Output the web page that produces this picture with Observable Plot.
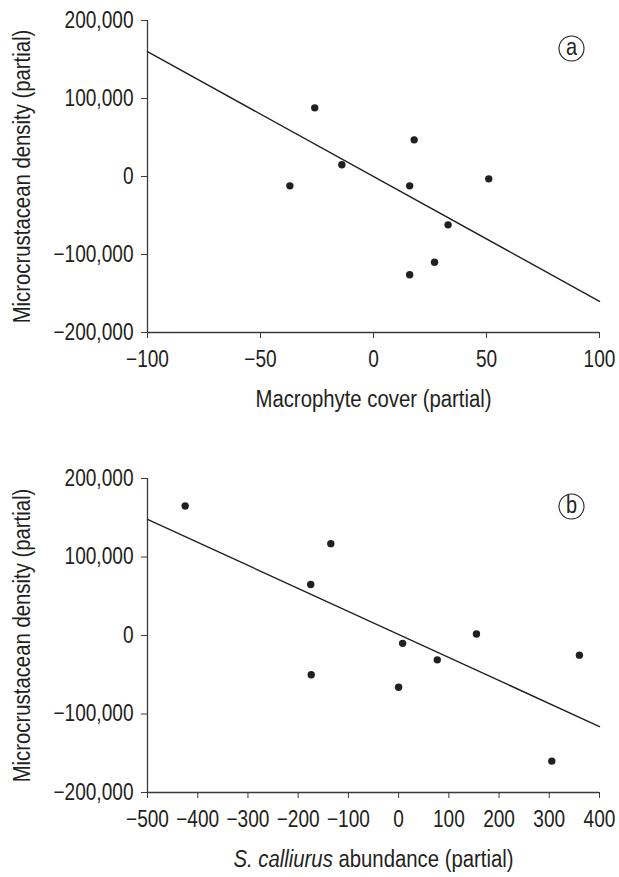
<!DOCTYPE html>
<html>
<head>
<meta charset="utf-8">
<script src="https://cdn.jsdelivr.net/npm/d3@7"></script>
<script src="https://cdn.jsdelivr.net/npm/@observablehq/plot@0.6"></script>
<style>
  html, body { margin: 0; padding: 0; background: #fff; }
  #chart svg { display: block; }
</style>
</head>
<body>
<div id="chart"></div>
<script>
// ---- Data ----
const yTicks = [-200000, -100000, 0, 100000, 200000];
const xTicksA = [-100, -50, 0, 50, 100];
const xTicksB = [-500, -400, -300, -200, -100, 0, 100, 200, 300, 400];

// Panel (a): macrophyte cover (partial) vs microcrustacean density (partial)
const coverA   = [-37, -26, -14, 16, 18, 33, 27, 16, 51];
const densityA = [-12000, 88000, 15000, -12000, 47000, -62000, -110000, -126000, -3000];
const fitAx = [-100, 100];
const fitAy = [160000, -160000];

// Panel (b): S. calliurus abundance (partial) vs microcrustacean density (partial)
const abundanceB = [-425, -135, -175, -174, 8, 77, 0, 155, 360, 305];
const densityB   = [165000, 117000, 65000, -50000, -10000, -31000, -66000, 2000, -25000, -160000];
const fitBx = [-500, 400];
const fitBy = [148000, -116000];

const yTitle = "Microcrustacean density (partial)";
const xTitleA = "Macrophyte cover (partial)";
const xTitleB = "S. calliurus abundance (partial)";

const FONT = "'Liberation Sans', Arial, Helvetica, sans-serif";
const NARROW = 0.83; // horizontal compression to mimic a narrow grotesque
const INK = "#231f20";
const AXIS = "#3a3a3a";

function panel({xs, ys, fx, fy, xDomain, xTicks, letter, xTitle, height, marginTop, marginBottom}) {
  const pts = xs.map((x, i) => ({x, y: ys[i]}));
  const fit = fx.map((x, i) => ({x, y: fy[i]}));
  return Plot.plot({
    width: 619,
    height,
    marginLeft: 147,
    marginRight: 20,
    marginTop,
    marginBottom,
    style: {fontFamily: FONT, fontSize: "23px", color: INK, background: "#fff", overflow: "visible"},
    x: {domain: xDomain, nice: false},
    y: {domain: [-200000, 200000], nice: false},
    marks: [
      Plot.axisY({ticks: yTicks, tickFormat: d3.format(","), tickSize: 6, tickPadding: 8, label: null, stroke: AXIS, fill: INK}),
      Plot.axisX({ticks: xTicks, tickFormat: d3.format(""), tickSize: 6, tickPadding: 12, label: null, stroke: AXIS, fill: INK}),
      Plot.ruleX([xDomain[0]], {stroke: AXIS, strokeWidth: 1.3}),
      Plot.ruleY([-200000], {stroke: AXIS, strokeWidth: 1.3}),
      Plot.line(fit, {x: "x", y: "y", stroke: INK, strokeWidth: 1.4}),
      Plot.dot(pts, {x: "x", y: "y", r: 3.7, fill: INK, stroke: "none"}),
      Plot.dot([letter], {frameAnchor: "top-right", dx: -28, dy: 28, r: 12.5, fill: "none", stroke: INK, strokeWidth: 1.1}),
      Plot.text([letter], {text: d => d, frameAnchor: "top-right", dx: -28, dy: 27, fontSize: 24, fill: INK, textAnchor: "middle", lineAnchor: "middle"}),
      Plot.text([yTitle], {text: d => d, frameAnchor: "left", dx: -125, rotate: -90, fontSize: 24.5, fill: INK, textAnchor: "middle", lineAnchor: "middle"}),
      Plot.text([xTitle], {text: d => d, frameAnchor: "bottom", dy: 67, fontSize: 24.5, fill: INK, textAnchor: "middle", lineAnchor: "middle"})
    ]
  });
}

// Compress text horizontally about its own anchor, keeping vertical offsets untouched
function narrowText(svg) {
  d3.select(svg).selectAll("text").each(function() {
    const el = d3.select(this);
    const xa = el.attr("x");
    if (xa != null && /^-?[\d.]+$/.test(xa)) el.attr("x", (+xa) / NARROW);
    const t = el.attr("transform") || "";
    el.attr("transform", `${t} scale(${NARROW},1)`);
  });
}

const chartA = panel({
  xs: coverA, ys: densityA, fx: fitAx, fy: fitAy,
  xDomain: [-100, 100], xTicks: xTicksA, letter: "a", xTitle: xTitleA,
  height: 440, marginTop: 20, marginBottom: 108
});
const chartB = panel({
  xs: abundanceB, ys: densityB, fx: fitBx, fy: fitBy,
  xDomain: [-500, 400], xTicks: xTicksB, letter: "b", xTitle: xTitleB,
  height: 437, marginTop: 38, marginBottom: 85
});

// Italicise the species name in panel (b)'s x title
d3.select(chartB).selectAll("text").each(function() {
  if (this.textContent === xTitleB) {
    const sel = d3.select(this);
    sel.text(null);
    sel.append("tspan").attr("font-style", "italic").text("S. calliurus");
    sel.append("tspan").text(" abundance (partial)");
  }
});

narrowText(chartA);
narrowText(chartB);

document.getElementById("chart").append(chartA, chartB);
</script>
</body>
</html>
